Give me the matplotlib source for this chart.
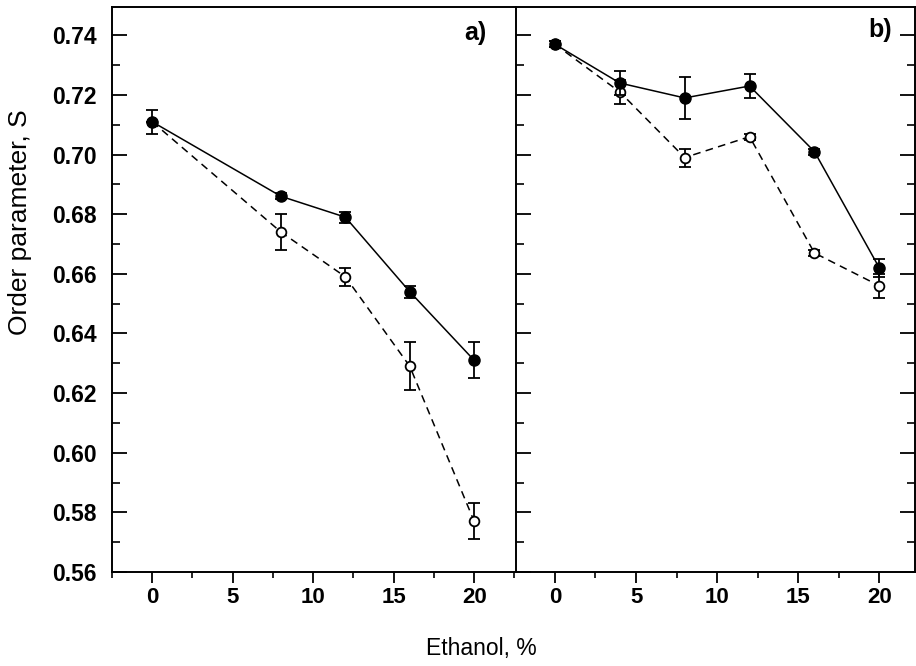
import matplotlib
matplotlib.use("Agg")
import matplotlib.pyplot as plt
from matplotlib.ticker import MultipleLocator, FormatStrFormatter

plt.rcParams['font.family'] = ['Liberation Sans', 'DejaVu Sans']

# Panel a)
a_x_filled = [0, 8, 12, 16, 20]
a_y_filled = [0.711, 0.686, 0.679, 0.654, 0.631]
a_e_filled = [0.004, 0.001, 0.0018, 0.002, 0.006]
a_x_open = [0, 8, 12, 16, 20]
a_y_open = [0.711, 0.674, 0.659, 0.629, 0.577]
a_e_open = [0.0, 0.006, 0.003, 0.008, 0.006]

# Panel b)
b_x_filled = [0, 4, 8, 12, 16, 20]
b_y_filled = [0.737, 0.724, 0.719, 0.723, 0.701, 0.662]
b_e_filled = [0.001, 0.004, 0.007, 0.004, 0.001, 0.003]
b_x_open = [0, 4, 8, 12, 16, 20]
b_y_open = [0.737, 0.721, 0.699, 0.706, 0.667, 0.656]
b_e_open = [0.001, 0.004, 0.003, 0.001, 0.001, 0.004]

x_ticks = [0, 5, 10, 15, 20]
y_ticks = [0.56, 0.58, 0.60, 0.62, 0.64, 0.66, 0.68, 0.70, 0.72, 0.74]

fig = plt.figure(figsize=(9.16, 6.66), dpi=100)
W, H = 916, 666
ax_a = fig.add_axes([112 / W, 1 - 572 / H, (516 - 112) / W, (572 - 7) / H])
ax_b = fig.add_axes([516 / W, 1 - 572 / H, (915 - 516) / W, (572 - 7) / H])


def draw(ax, xf, yf, ef, xo, yo, eo, xlim):
    ax.errorbar(xo, yo, yerr=eo, color='black', lw=1.1, ls=(0, (5, 3.5)),
                marker='o', ms=7, mfc='white', mec='black', mew=1.3,
                ecolor='black', elinewidth=1.3, capsize=4.5, capthick=1.3, zorder=2)
    ax.errorbar(xf, yf, yerr=ef, color='black', lw=1.1, ls='-',
                marker='o', ms=8, mfc='black', mec='black',
                ecolor='black', elinewidth=1.3, capsize=4.5, capthick=1.3, zorder=3)
    ax.set_xlim(*xlim)
    ax.set_ylim(0.56, 0.7495)
    ax.xaxis.set_major_locator(MultipleLocator(5))
    ax.xaxis.set_minor_locator(MultipleLocator(2.5))
    ax.yaxis.set_major_locator(MultipleLocator(0.02))
    ax.yaxis.set_minor_locator(MultipleLocator(0.01))
    ax.set_xticks(x_ticks)
    ax.tick_params(axis='x', which='major', direction='out', length=8, width=1.3,
                   labelsize=16, pad=3)
    ax.tick_params(axis='x', which='minor', direction='out', length=4, width=1.2)
    for lbl in ax.get_xticklabels():
        lbl.set_fontweight('bold')
    for sp in ax.spines.values():
        sp.set_linewidth(1.4)


draw(ax_a, a_x_filled, a_y_filled, a_e_filled, a_x_open, a_y_open, a_e_open,
     (-2.5, 22.6))
draw(ax_b, b_x_filled, b_y_filled, b_e_filled, b_x_open, b_y_open, b_e_open,
     (-2.4, 22.2))

ax_a.set_yticks(y_ticks)
ax_a.yaxis.set_major_formatter(FormatStrFormatter('%.2f'))
ax_a.tick_params(axis='y', which='major', direction='in', length=11, width=1.3,
                 labelsize=16.5, pad=11, left=True, right=False)
ax_a.tick_params(axis='y', which='minor', direction='in', length=6, width=1.2,
                 left=True, right=False)
for lbl in ax_a.get_yticklabels():
    lbl.set_fontweight('bold')

ax_b.set_yticks(y_ticks)
ax_b.tick_params(axis='y', which='major', direction='in', length=11, width=1.3,
                 left=True, right=True, labelleft=False)
ax_b.tick_params(axis='y', which='minor', direction='in', length=6, width=1.2,
                 left=True, right=True)
ax_a.spines['right'].set_visible(False)

ax_a.text(0.928, 0.954, 'a)', transform=ax_a.transAxes, ha='right', va='center',
          fontsize=18, fontweight='bold')
ax_b.text(0.942, 0.96, 'b)', transform=ax_b.transAxes, ha='right', va='center',
          fontsize=18, fontweight='bold')

fig.text(481 / W, 1 - 648 / H, 'Ethanol, %', ha='center', va='center', fontsize=16.5)
fig.text(20 / W, 1 - 222 / H, 'Order parameter, S', ha='center', va='center',
         rotation=90, fontsize=19)

fig.savefig('out.png', dpi=100)
